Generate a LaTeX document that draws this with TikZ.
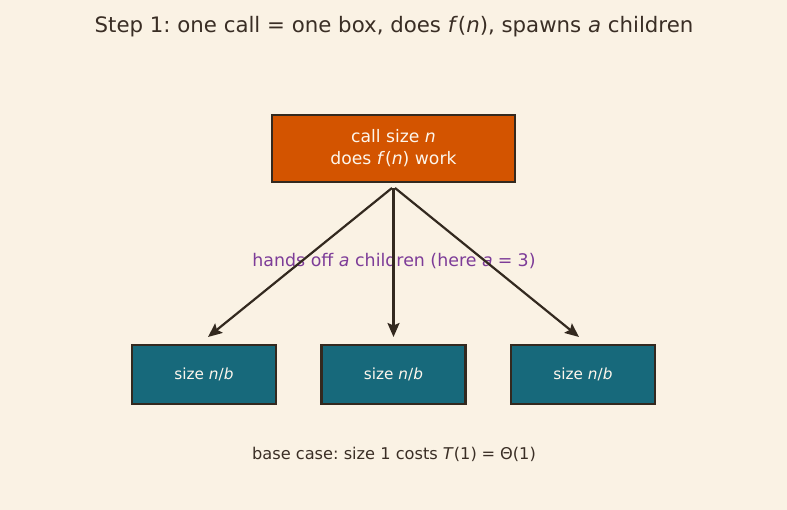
\documentclass[tikz,border=0pt]{standalone}
\usepackage{fontspec}
\setmainfont{DejaVu Sans}
\usetikzlibrary{arrows.meta}
\definecolor{bgc}{HTML}{FAF2E4}
\definecolor{orangec}{HTML}{D35400}
\definecolor{tealc}{HTML}{17697B}
\definecolor{edgec}{HTML}{33291F}
\definecolor{purplec}{HTML}{7D3C98}
\definecolor{inkc}{HTML}{3A2E25}
\definecolor{boxtext}{HTML}{FDF6EC}
\frenchspacing
\newcommand{\eqsp}{\hspace{0.3em}=\hspace{0.3em}}
\begin{document}
\begin{tikzpicture}[x=1pt,y=-1pt,
  parentbox/.style={draw=edgec,line width=2.2pt,fill=orangec,text=boxtext,minimum width=243pt,minimum height=67pt,inner sep=0pt,align=center,font=\fontsize{17.2}{22}\selectfont},
  childbox/.style={draw=edgec,line width=2.2pt,fill=tealc,text=boxtext,minimum width=144pt,minimum height=59pt,inner sep=0pt,font=\fontsize{15.3}{18}\selectfont},
  arr/.style={draw=edgec,line width=2.2pt,-{Stealth[length=14pt,width=12pt,inset=2.5pt]}}
  ]
\fill[bgc] (0,0) rectangle (787,510);
\useasboundingbox (0,0) rectangle (787,510);
\node[text=inkc,font=\fontsize{21.3}{25}\selectfont] (title) at (394,27) {Step 1: one call = one box, does \textit{f}(\textit{n}), spawns \textit{a} children};
\node[parentbox] (parent) at (393.5,148.5) {call size \textit{n}\\does \textit{f}(\textit{n}) work};
\node[childbox] (c1) at (204,374.5) {size \textit{n}/\textit{b}};
\node[childbox] (c2) at (393.5,374.5) {size \textit{n}/\textit{b}};
\node[childbox] (c3) at (583,374.5) {size \textit{n}/\textit{b}};
\node[text=purplec,font=\fontsize{17.4}{20}\selectfont] (lab) at (394,261) {hands off \textit{a} children (here \textit{a}\eqsp 3)};
\node[text=inkc,font=\fontsize{16.2}{20}\selectfont] (base) at (394,454) {base case: size 1 costs \textit{T}(1)\eqsp Θ(1)};
\coordinate (s1) at (392,188);
\coordinate (s2) at (393.5,188);
\coordinate (s3) at (395,188);
\coordinate (e1) at (208,337);
\coordinate (e2) at (393.5,337);
\coordinate (e3) at (579,337);
\draw[arr] (s1) -- (e1);
\draw[arr] (s2) -- (e2);
\draw[arr] (s3) -- (e3);
\end{tikzpicture}
\end{document}
